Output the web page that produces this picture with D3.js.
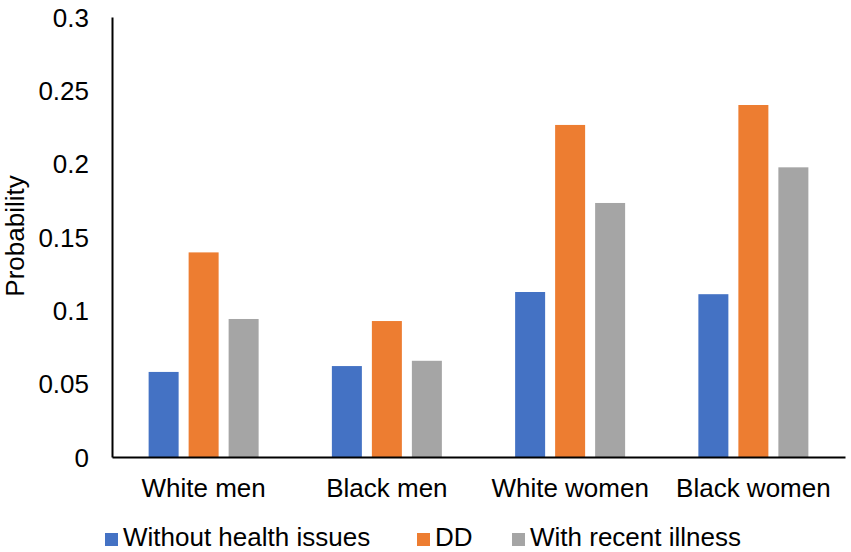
<!DOCTYPE html>
<html><head><meta charset="utf-8">
<script src="https://cdn.jsdelivr.net/npm/d3@7"></script>
<style>body{margin:0;background:#fff}svg{display:block}text{font-family:"Liberation Sans",Arial,sans-serif;fill:#000}</style>
</head><body>
<script>
const categories = ["White men","Black men","White women","Black women"];
const seriesNames = ["Without health issues","DD","With recent illness"];
const withoutHealthIssues = [0.058,0.062,0.1125,0.111];
const dd = [0.1395,0.0927,0.2264,0.240];
const withRecentIllness = [0.0941,0.0656,0.1732,0.1975];
const yTicks = [0,0.05,0.1,0.15,0.2,0.25,0.3];
const yTickLabels = ["0","0.05","0.1","0.15","0.2","0.25","0.3"];
const colors = ["#4472C4","#ED7D31","#A5A5A5"];

const seriesValues = [withoutHealthIssues, dd, withRecentIllness];
const W = 851, H = 552;
const svg = d3.select("body").append("svg").attr("width",W).attr("height",H);

const x0 = d3.scaleBand().domain(categories).range([112,845]).padding(0);
const x1 = d3.scaleBand().domain(seriesNames).range([-55,55]).paddingInner(0.25).paddingOuter(0);
const y = d3.scaleLinear().domain([0,0.3]).range([457,17]);

// bars
const g = svg.append("g");
categories.forEach((c,ci)=>{
  seriesNames.forEach((s,si)=>{
    const v = seriesValues[si][ci];
    g.append("rect")
      .attr("x", x0(c)+x0.bandwidth()/2 + x1(s))
      .attr("width", x1.bandwidth())
      .attr("y", y(v))
      .attr("height", y(0)-y(v))
      .attr("fill", colors[si]);
  });
});

// y axis
const yAxis = d3.axisLeft(y).tickValues(yTicks).tickFormat((d,i)=>yTickLabels[i]).tickSize(0).tickPadding(23);
const ya = svg.append("g").attr("transform","translate(112,0)").call(yAxis);
ya.select(".domain").attr("stroke","#000").attr("stroke-width",2);
ya.selectAll("text").style("font-size","26px").attr("dy","0.35em");

// x axis
const xAxis = d3.axisBottom(x0).tickSize(0).tickPadding(22);
const xa = svg.append("g").attr("transform","translate(0,457)").call(xAxis);
xa.select(".domain").attr("stroke","#000").attr("stroke-width",2);
xa.selectAll("text").style("font-size","26px").attr("dy","0.7em");

// y label
svg.append("text").attr("transform","translate(24,236) rotate(-90)")
  .attr("text-anchor","middle").style("font-size","26px").text("Probability");

// legend
const legX = [105,417,512];
const lg = svg.append("g");
seriesNames.forEach((s,i)=>{
  lg.append("rect").attr("x",legX[i]).attr("y",533).attr("width",13).attr("height",13).attr("fill",colors[i]);
  lg.append("text").attr("x",legX[i]+18).attr("y",546).style("font-size","26px").text(s);
});
</script>
</body></html>
